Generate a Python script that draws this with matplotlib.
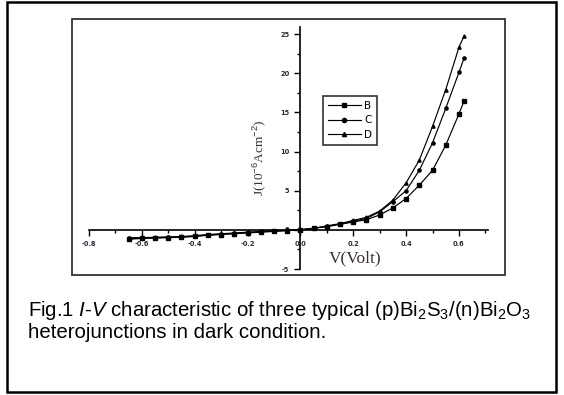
import matplotlib
matplotlib.use("Agg")
import matplotlib.pyplot as plt
from matplotlib.patches import Rectangle
from matplotlib.ticker import MultipleLocator, FixedLocator, FixedFormatter

plt.rcParams['mathtext.fontset'] = 'custom'
plt.rcParams['mathtext.rm'] = 'Liberation Sans'
plt.rcParams['mathtext.it'] = 'Liberation Sans:italic'

# ---- data ----
v_neg = [-0.65, -0.6, -0.55, -0.5, -0.45, -0.4, -0.35, -0.3, -0.25, -0.2, -0.15, -0.1, -0.05]
v_pos = [0.0, 0.05, 0.1, 0.15, 0.2, 0.25, 0.3, 0.35, 0.4, 0.45, 0.5, 0.55, 0.6, 0.62]

B_neg = [-1.2, -1.1, -1.05, -1.0, -0.95, -0.85, -0.7, -0.6, -0.5, -0.4, -0.3, -0.2, -0.1]
C_neg = [-1.1, -1.05, -1.0, -0.95, -0.9, -0.8, -0.65, -0.55, -0.45, -0.35, -0.25, -0.15, -0.08]
D_neg = [-1.0, -1.0, -0.95, -0.9, -0.85, -0.75, -0.6, -0.5, -0.4, -0.3, -0.2, -0.12, -0.05]

B_pos = [0.0, 0.2, 0.4, 0.7, 1.0, 1.3, 1.9, 2.8, 4.0, 5.7, 7.6, 10.8, 14.8, 16.5]
C_pos = [0.0, 0.2, 0.45, 0.75, 1.1, 1.45, 2.3, 3.6, 5.0, 7.6, 11.1, 15.5, 20.1, 22.0]
D_pos = [0.0, 0.2, 0.5, 0.8, 1.2, 1.6, 2.4, 3.8, 6.0, 8.9, 13.2, 17.9, 23.3, 24.8]

labels = ["B", "C", "D"]
markers = ["s", "o", "^"]

x_major = [-0.8, -0.6, -0.4, -0.2, 0.0, 0.2, 0.4, 0.6]
x_major_labels = ["-0.8", "-0.6", "-0.4", "-0.2", "0.0", "0.2", "0.4", "0.6"]
y_major = [-5, 0, 5, 10, 15, 20, 25]
y_major_labels = ["-5", "0", "5", "10", "15", "20", "25"]

W, H = 564, 395
fig = plt.figure(figsize=(W / 100, H / 100), dpi=100)

def fx(px):
    return px / W

def fy(py):
    return 1 - py / H

# outer frame
fig.patches.append(Rectangle((fx(7), fy(392)), fx(556) - fx(7), fy(2) - fy(392),
                             transform=fig.transFigure, fill=False, lw=1.8, ec='black'))
# inner frame
fig.patches.append(Rectangle((fx(72), fy(275)), fx(505) - fx(72), fy(19) - fy(275),
                             transform=fig.transFigure, fill=False, lw=1.3, ec='#333333'))

ax = fig.add_axes([fx(89), fy(269), fx(488) - fx(89), fy(27) - fy(269)])
ax.set_xlim(-0.8, 0.71)
ax.set_ylim(-5, 25.9)
ax.patch.set_alpha(0)

for sp in ['top', 'right']:
    ax.spines[sp].set_visible(False)
ax.spines['left'].set_position(('data', 0))
ax.spines['bottom'].set_position(('data', 0))
ax.spines['left'].set_linewidth(1.2)
ax.spines['bottom'].set_linewidth(1.2)

ax.xaxis.set_major_locator(FixedLocator(x_major))
ax.xaxis.set_major_formatter(FixedFormatter(x_major_labels))
ax.xaxis.set_minor_locator(MultipleLocator(0.1))
ax.yaxis.set_major_locator(FixedLocator(y_major))
ax.yaxis.set_major_formatter(FixedFormatter(y_major_labels))
ax.yaxis.set_minor_locator(MultipleLocator(2.5))
ax.tick_params(which='major', length=4, width=1.0, labelsize=4.8, pad=4, labelcolor='#2a2a3a')
ax.tick_params(which='minor', length=2.5, width=1.0)
for t in ax.get_xticklabels() + ax.get_yticklabels():
    t.set_fontweight('bold')

series_neg = [B_neg, C_neg, D_neg]
series_pos = [B_pos, C_pos, D_pos]
for lab, mk, yn, yp in zip(labels, markers, series_neg, series_pos):
    xs = v_neg + v_pos
    ys = yn + yp
    ax.plot(xs, ys, color='black', lw=0.85, marker=mk, ms=2.3, label=lab)

leg = ax.legend(loc='upper left', bbox_to_anchor=(fx(323), fy(96)),
                bbox_transform=fig.transFigure, frameon=True, fancybox=False,
                edgecolor='black', fontsize=7.5, handlelength=3.2, handletextpad=0.3,
                borderpad=0.45, labelspacing=0.45, borderaxespad=0)
leg.get_frame().set_linewidth(1.2)
for h in leg.legend_handles:
    h.set_markersize(3)

fig.text(fx(355), fy(258), "V(Volt)", family='Liberation Serif', fontsize=12.5,
         color='#3a3030', ha='center', va='center')
fig.text(fx(259), fy(158), "J(10$^{-6}$Acm$^{-2}$)", family='Liberation Serif', fontsize=9.5,
         color='#3a3030', ha='center', va='center', rotation=90)

fig.text(fx(28), fy(310), r"Fig.1 $\mathit{I}$-$\mathit{V}$ characteristic of three typical (p)Bi$_2$S$_3$/(n)Bi$_2$O$_3$",
         family='Liberation Sans', fontsize=14.7, ha='left', va='center', color='black')
fig.text(fx(28), fy(332), "heterojunctions in dark condition.",
         family='Liberation Sans', fontsize=14.7, ha='left', va='center', color='black')

fig.savefig("out.png", dpi=100)
